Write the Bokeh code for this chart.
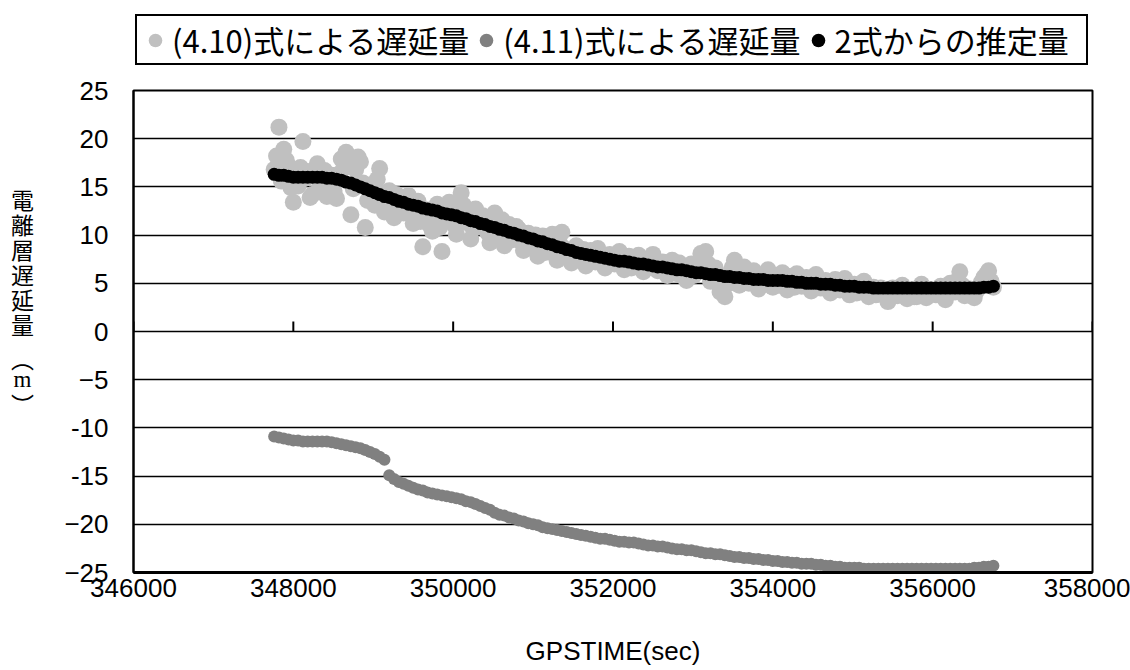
from math import pi

from bokeh.plotting import figure
from bokeh.layouts import column, row
from bokeh.models import Range1d, FixedTicker, Legend, LegendItem, Label
from bokeh.embed import file_html
from bokeh.resources import INLINE

# GPS epochs (seconds of week)
epoch_30 = list(range(347760, 356761, 30))   # eq. (4.10) samples
epoch_60 = list(range(347760, 356761, 60))   # eq. (4.11) and the estimate

# Ionospheric delay from eq. (4.10) [m], every 30 s
delay_410 = [
    16.8, 18.2, 21.2, 15.6, 18.9, 17.8, 17.2, 14.9, 13.4, 16.4,
    15.1, 17.0, 19.7, 15.9, 16.6, 13.9, 14.2, 16.1, 17.4, 15.0,
    15.3, 16.7, 14.0, 15.1, 16.2, 14.6, 13.8, 16.3, 17.9, 16.9,
    18.6, 17.3, 12.1, 14.8, 16.8, 18.1, 17.6, 15.4, 10.8, 13.6,
    15.2, 14.0, 13.1, 15.8, 16.9, 14.3, 12.4, 13.6, 14.6, 12.9,
    11.8, 14.2, 13.9, 12.8, 12.3, 13.7, 14.1, 12.5, 11.2, 13.0,
    13.5, 11.4, 8.8, 12.2, 12.6, 11.0, 10.4, 12.4, 13.2, 10.8,
    8.3, 11.7, 11.6, 13.4, 12.9, 11.1, 10.1, 12.6, 14.4, 13.1,
    11.3, 12.2, 9.6, 10.7, 12.7, 11.5, 10.9, 12.0, 11.8, 10.3,
    9.2, 11.0, 12.3, 10.4, 10.0, 11.6, 8.9, 10.2, 11.1, 9.5,
    9.7, 10.9, 10.6, 9.3, 8.4, 9.6, 10.2, 8.7, 9.0, 10.0,
    7.8, 9.1, 9.9, 8.2, 8.6, 9.4, 10.1, 8.8, 7.4, 9.2,
    10.3, 8.6, 8.2, 7.7, 7.1, 8.3, 8.9, 7.9, 7.6, 8.5,
    6.8, 7.4, 8.4, 7.8, 7.2, 8.6, 8.1, 7.3, 6.6, 7.6,
    8.0, 7.3, 7.0, 7.7, 8.3, 6.9, 6.4, 7.4, 7.8, 6.6,
    6.9, 7.6, 7.9, 7.0, 6.2, 7.2, 7.5, 6.7, 8.0, 6.9,
    6.3, 6.9, 7.2, 6.5, 5.8, 6.7, 7.4, 6.2, 6.0, 7.1,
    6.8, 5.9, 5.3, 6.3, 7.0, 5.8, 6.4, 7.2, 8.1, 6.6,
    8.3, 7.0, 5.2, 6.1, 6.6, 5.4, 4.1, 4.6, 3.6, 4.9,
    5.9, 6.6, 7.4, 5.5, 4.8, 6.0, 6.7, 5.7, 5.0, 6.2,
    6.3, 5.2, 4.4, 5.6, 5.8, 4.9, 6.4, 5.3, 4.6, 5.8,
    5.7, 4.8, 6.1, 5.1, 4.3, 5.7, 5.5, 4.6, 6.0, 5.3,
    4.7, 5.1, 5.6, 4.8, 4.2, 5.0, 5.9, 4.6, 4.5, 5.2,
    5.3, 4.7, 4.0, 4.9, 5.4, 4.4, 4.3, 5.0, 5.5, 4.6,
    3.8, 4.4, 4.9, 4.0, 4.1, 4.7, 5.2, 4.2, 3.6, 4.3,
    4.6, 3.8, 3.9, 4.5, 4.4, 3.7, 3.1, 4.0, 4.5, 3.9,
    3.7, 4.2, 4.8, 3.9, 3.4, 4.0, 4.2, 3.6, 3.6, 4.4,
    4.9, 4.1, 3.5, 3.9, 4.3, 4.0, 3.8, 4.3, 4.7, 3.8,
    3.3, 4.1, 5.0, 4.4, 4.1, 5.3, 6.2, 4.8, 3.7, 4.0,
    4.4, 3.9, 3.5, 4.2, 4.6, 5.1, 5.6, 5.9, 6.3, 5.2,
    4.6,
]

# Ionospheric delay from eq. (4.11) [m], every 60 s
delay_411 = [
    -10.9, -11.0, -11.1, -11.2, -11.3, -11.3, -11.4, -11.4, -11.4, -11.4,
    -11.4, -11.4, -11.5, -11.6, -11.7, -11.8, -11.9, -12.0, -12.1, -12.3,
    -12.5, -12.7, -13.0, -13.3, -14.9, -15.3, -15.6, -15.8, -16.0, -16.2,
    -16.4, -16.5, -16.7, -16.8, -16.9, -17.0, -17.1, -17.2, -17.3, -17.4,
    -17.6, -17.7, -17.9, -18.1, -18.3, -18.5, -18.8, -19.0, -19.1, -19.3,
    -19.4, -19.6, -19.7, -19.9, -20.0, -20.1, -20.3, -20.4, -20.5, -20.6,
    -20.7, -20.8, -20.9, -21.0, -21.1, -21.2, -21.3, -21.4, -21.5, -21.5,
    -21.6, -21.7, -21.8, -21.8, -21.9, -21.9, -22.0, -22.1, -22.2, -22.2,
    -22.3, -22.3, -22.4, -22.5, -22.6, -22.6, -22.7, -22.7, -22.8, -22.9,
    -23.0, -23.0, -23.1, -23.1, -23.2, -23.3, -23.4, -23.4, -23.5, -23.5,
    -23.6, -23.6, -23.7, -23.7, -23.8, -23.8, -23.9, -23.9, -24.0, -24.0,
    -24.1, -24.1, -24.1, -24.2, -24.2, -24.3, -24.3, -24.4, -24.4, -24.5,
    -24.5, -24.5, -24.5, -24.6, -24.6, -24.6, -24.6, -24.6, -24.6, -24.6,
    -24.6, -24.6, -24.6, -24.6, -24.6, -24.6, -24.6, -24.6, -24.6, -24.6,
    -24.6, -24.6, -24.6, -24.6, -24.6, -24.6, -24.5, -24.5, -24.4, -24.4,
    -24.3,
]

# Delay estimated from both equations [m], every 60 s
delay_est = [
    16.3, 16.2, 16.2, 16.1, 16.0, 16.0, 16.0, 16.0, 16.0, 16.0,
    16.0, 15.9, 15.9, 15.8, 15.7, 15.5, 15.4, 15.2, 15.0, 14.8,
    14.6, 14.4, 14.2, 14.0, 13.9, 13.7, 13.5, 13.4, 13.2, 13.1,
    13.0, 12.8, 12.7, 12.6, 12.5, 12.3, 12.2, 12.1, 12.0, 11.8,
    11.7, 11.5, 11.4, 11.2, 11.1, 10.9, 10.8, 10.6, 10.5, 10.3,
    10.2, 10.0, 9.9, 9.7, 9.6, 9.4, 9.3, 9.1, 9.0, 8.8,
    8.7, 8.5, 8.4, 8.2, 8.1, 8.0, 7.9, 7.8, 7.7, 7.6,
    7.5, 7.4, 7.3, 7.3, 7.2, 7.1, 7.0, 7.0, 6.9, 6.8,
    6.7, 6.7, 6.6, 6.5, 6.4, 6.4, 6.3, 6.2, 6.1, 6.1,
    6.0, 5.9, 5.9, 5.8, 5.7, 5.7, 5.6, 5.6, 5.5, 5.5,
    5.4, 5.4, 5.4, 5.3, 5.3, 5.3, 5.3, 5.2, 5.2, 5.1,
    5.1, 5.0, 5.0, 5.0, 4.9, 4.9, 4.9, 4.8, 4.8, 4.7,
    4.7, 4.7, 4.6, 4.6, 4.6, 4.5, 4.5, 4.5, 4.5, 4.5,
    4.5, 4.5, 4.5, 4.5, 4.5, 4.5, 4.5, 4.5, 4.5, 4.5,
    4.5, 4.5, 4.5, 4.5, 4.5, 4.5, 4.5, 4.5, 4.6, 4.6,
    4.7,
]

series_names = ["(4.10)式による遅延量", "(4.11)式による遅延量", "2式からの推定量"]
series_colors = ["#C0C0C0", "#808080", "#000000"]
series_sizes = [17, 12, 13]

x_ticks = [346000, 348000, 350000, 352000, 354000, 356000, 358000]
y_ticks = [25, 20, 15, 10, 5, 0, -5, -10, -15, -20, -25]
y_tick_text = ["25", "20", "15", "10", "5", "0", "\u22125", "-10", "-15", "\u221220", "\u221225"]

x_title = "GPSTIME(sec)"
# written top to bottom, one character per row
y_title_chars = ["電", "離", "層", "遅", "延", "量", "\ufe35", "m", "\ufe36"]

assert len(delay_410) == len(epoch_30)
assert len(delay_411) == len(epoch_60)
assert len(delay_est) == len(epoch_60)

NUM_FONT = "Liberation Sans"
JP_FONT = "Noto Sans CJK JP"

W, H = 1130, 670
LEGEND_H = 70          # strip holding the legend
TITLE_W = 45           # strip holding the vertical y title
BODY_H = H - LEGEND_H
FRAME_BOTTOM = 573     # page row of the chart's bottom edge


def bare_figure(width, height):
    f = figure(width=width, height=height, x_range=Range1d(0, 1), y_range=Range1d(0, 1),
               output_backend="svg", toolbar_location=None,
               min_border=0, background_fill_color="white", border_fill_color="white")
    f.axis.visible = False
    f.grid.visible = False
    f.outline_line_color = None
    return f


# ---- main chart ----
p = figure(
    width=W - TITLE_W, height=BODY_H,
    x_range=Range1d(346000, 358000), y_range=Range1d(-25, 25),
    output_backend="svg", toolbar_location=None,
    min_border_left=133 - TITLE_W, min_border_right=38,
    min_border_top=90 - LEGEND_H, min_border_bottom=98,
    background_fill_color="white", border_fill_color="white",
)

p.outline_line_color = "black"
p.outline_line_width = 2

p.xgrid.visible = False
p.ygrid.ticker = FixedTicker(ticks=y_ticks)
p.ygrid.grid_line_color = "black"
p.ygrid.grid_line_width = 1.6

# x axis: labels along the bottom edge, tick marks sit on the zero line
xa = p.xaxis[0]
xa.ticker = FixedTicker(ticks=x_ticks)
xa.major_label_overrides = {t: str(t) for t in x_ticks}
xa.major_tick_out = 0
xa.major_tick_in = 0
xa.minor_tick_out = 0
xa.minor_tick_in = 0
xa.axis_line_color = "black"
xa.axis_line_width = 3
xa.major_label_text_font = NUM_FONT
xa.major_label_text_font_size = "26px"
xa.major_label_text_color = "black"
xa.major_label_standoff = 6
xa.axis_label = x_title
xa.axis_label_text_font = NUM_FONT
xa.axis_label_text_font_size = "26px"
xa.axis_label_text_font_style = "normal"
xa.axis_label_text_color = "black"
xa.axis_label_standoff = 36

ya = p.yaxis[0]
ya.ticker = FixedTicker(ticks=y_ticks)
ya.major_label_overrides = {t: s for t, s in zip(y_ticks, y_tick_text)}
ya.major_tick_out = 0
ya.major_tick_in = 0
ya.minor_tick_out = 0
ya.minor_tick_in = 0
ya.axis_line_color = "black"
ya.axis_line_width = 2
ya.major_label_text_font = NUM_FONT
ya.major_label_text_font_size = "26px"
ya.major_label_text_color = "black"
ya.major_label_standoff = 25

# small upward tick marks on the zero line
p.ray(x=x_ticks, y=[0] * len(x_ticks), length=10, length_units="screen",
      angle=pi / 2, line_color="black", line_width=2)

p.scatter(epoch_30, delay_410, size=series_sizes[0], marker="circle",
          fill_color=series_colors[0], line_color=None)
p.scatter(epoch_60, delay_411, size=series_sizes[1], marker="circle",
          fill_color=series_colors[1], line_color=None)
p.scatter(epoch_60, delay_est, size=series_sizes[2], marker="circle",
          fill_color=series_colors[2], line_color=None)

# ---- legend strip ----
# the key renderers carry the same series, but this strip's ranges keep them out of view
lf = bare_figure(W, LEGEND_H)
keys = [
    lf.scatter(epoch_30, delay_410, marker="circle", fill_color=series_colors[0], line_color=None),
    lf.scatter(epoch_60, delay_411, marker="circle", fill_color=series_colors[1], line_color=None),
    lf.scatter(epoch_60, delay_est, marker="circle", fill_color=series_colors[2], line_color=None),
]
legend = Legend(
    items=[LegendItem(label=n, renderers=[r]) for n, r in zip(series_names, keys)],
    orientation="horizontal",
    location=(135, 5),
    label_text_font=JP_FONT,
    label_text_font_size="31px",
    label_text_color="black",
    label_width=250,
    glyph_width=34,
    glyph_height=34,
    label_standoff=0,
    spacing=0,
    padding=1,
    margin=0,
    border_line_color="black",
    border_line_alpha=1,
    border_line_width=2,
    background_fill_color="white",
    background_fill_alpha=1,
)
lf.add_layout(legend, "center")

# ---- vertical y title strip ----
# this strip's frame lines up with the chart frame, so rows are measured from its bottom
tf = bare_figure(TITLE_W, BODY_H)
title_rows = [199, 224, 249, 274, 299, 324, 358, 380, 404]   # page rows of each glyph
for ch, yc in zip(y_title_chars, title_rows):
    tf.add_layout(Label(
        x=22, y=FRAME_BOTTOM - yc, x_units="screen", y_units="screen",
        text=ch, text_align="center", text_baseline="middle",
        text_font="Liberation Serif" if ch == "m" else JP_FONT,
        text_font_size="23px", text_color="black",
    ))

page = column(lf, row(tf, p, spacing=0), spacing=0)
open("out.html", "w").write(file_html(page, INLINE))
